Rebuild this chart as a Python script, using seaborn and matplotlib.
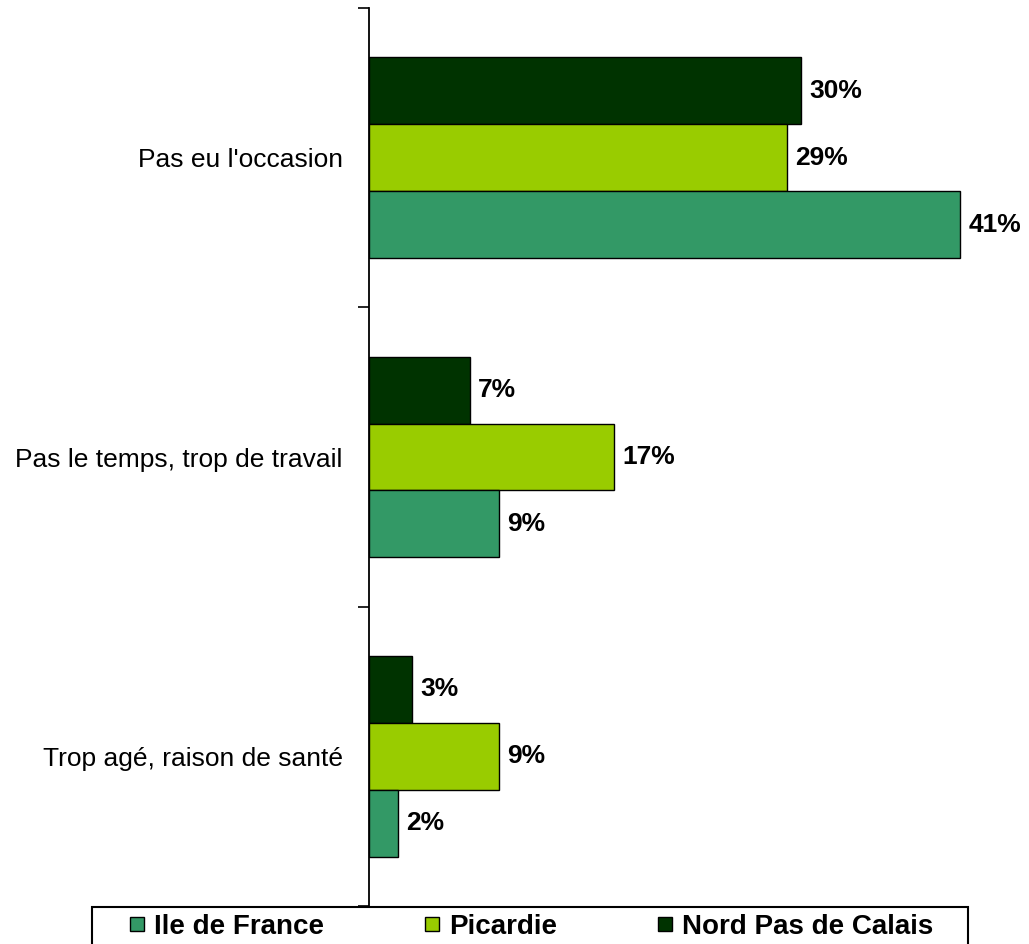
import pandas as pd
import seaborn as sns
import matplotlib.pyplot as plt
from matplotlib.lines import Line2D
from matplotlib.patches import Rectangle

# data
categories = ["Pas eu l'occasion", "Pas le temps, trop de travail", "Trop agé, raison de santé"]
regions = ["Ile de France", "Picardie", "Nord Pas de Calais"]
ile_de_france = [41, 9, 2]
picardie = [29, 17, 9]
nord_pas_de_calais = [30, 7, 3]
colors = {"Ile de France": "#339966", "Picardie": "#99CC00", "Nord Pas de Calais": "#003300"}

df = pd.DataFrame({
    "cat": categories * 3,
    "region": [r for r in regions for _ in categories],
    "value": ile_de_france + picardie + nord_pas_de_calais,
})

sns.set_style("white")
plt.rcParams["font.family"] = ["Liberation Sans", "DejaVu Sans"]
plt.rcParams["text.color"] = "black"
plt.rcParams["ytick.color"] = "black"
plt.rcParams["xtick.color"] = "black"

fig = plt.figure(figsize=(10.29, 9.44), dpi=100)
ax = fig.add_axes([369 / 1029, 1 - 906 / 944, 45 * 14.415 / 1029, 898 / 944])

# Nord on top inside each group, Ile de France at the bottom
sns.barplot(data=df, x="value", y="cat", hue="region",
            hue_order=regions[::-1], palette=colors, order=categories,
            orient="h", width=0.67, saturation=1, edgecolor="black", linewidth=1,
            legend=False, ax=ax)

for cont in ax.containers:
    ax.bar_label(cont, fmt="%g%%", padding=6, fontsize=19, fontweight="bold", color="black")

ax.set_xlim(0, 45)
ax.set_ylim(2.5, -0.5)
ax.set_xlabel("")
ax.set_ylabel("")
ax.set_xticks([])

# ticks between categories, labels at category centres
ax.set_yticks([-0.5, 0.5, 1.5, 2.5])
ax.set_yticklabels([])
ax.set_yticks(range(len(categories)), minor=True)
ax.set_yticklabels(categories, minor=True, fontsize=19, color="black")
ax.tick_params(axis="y", which="major", direction="out", length=8, width=1.2, color="black", left=True)
ax.tick_params(axis="y", which="minor", length=0, pad=19)

for s in ["top", "right", "bottom"]:
    ax.spines[s].set_visible(False)
ax.spines["left"].set_color("black")
ax.spines["left"].set_linewidth(1.3)

# legend box at the bottom
fig.patches.append(Rectangle((92 / 1029, -0.01), 876 / 1029, 1 - 907 / 944 + 0.01,
                             transform=fig.transFigure, fill=False,
                             edgecolor="black", linewidth=1.5, zorder=5))
handles = [Line2D([], [], marker="s", linestyle="", markersize=10.5,
                  markerfacecolor=colors[r], markeredgecolor="black", markeredgewidth=1)
           for r in regions]
fig.legend(handles, regions, loc="center", bbox_to_anchor=(531 / 1029, 1 - 927 / 944),
           ncol=3, frameon=False, prop={"size": 20, "weight": "bold"},
           handlelength=0.6, handletextpad=0.3, columnspacing=3.6)

plt.savefig("out.png", dpi=100)
